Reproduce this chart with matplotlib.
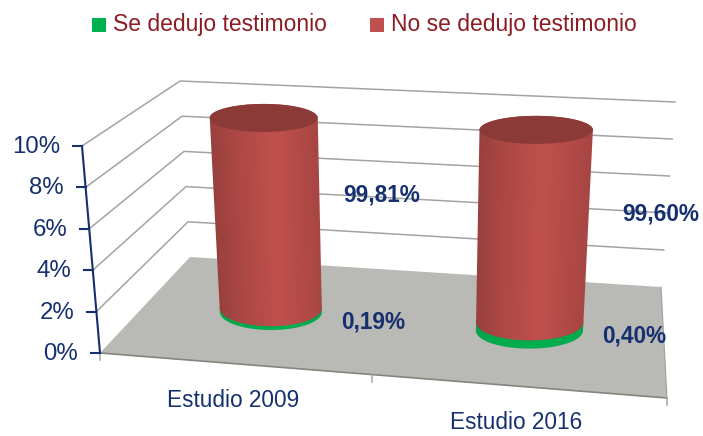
import matplotlib
matplotlib.use('Agg')
import matplotlib.pyplot as plt
import numpy as np
from matplotlib.colors import LinearSegmentedColormap
from matplotlib.patches import Polygon

plt.rcParams['font.family'] = ['Liberation Sans', 'DejaVu Sans']

categories = ['Estudio 2009', 'Estudio 2016']
se_dedujo = [0.19, 0.40]
no_se_dedujo = [99.81, 99.60]
se_labels = ['0,19%', '0,40%']
no_labels = ['99,81%', '99,60%']
ticks = [0, 2, 4, 6, 8, 10]
tick_labels = ['0%', '2%', '4%', '6%', '8%', '10%']
axis_max = 10

NAVY = '#16306f'
DARK_RED = '#8c1c22'
GREEN = '#00b050'
RED = '#c0504d'
GRID = '#a3a3a3'

# box corners in pixels: front left, back left, back right, front right
floor_c = np.array([[100, 353], [190, 257], [661, 287], [667, 398]], float)
top_c = np.array([[82, 146], [180, 81], [675, 102], [681, 173]], float)


def proj(u, v, pct):
    # trilinear position inside the chart box
    t = pct / axis_max
    c = floor_c * (1 - t) + top_c * t
    left = c[0] * (1 - v) + c[1] * v
    right = c[3] * (1 - v) + c[2] * v
    return left * (1 - u) + right * u


def cylinder(ax, u, v, p0, p1, col, bright, z):
    # gradient image clipped to the outline of the cylinder
    b0, b1 = proj(u, v, p0), proj(u, v, p1)
    grow = 1 + 0.1 * (u - 0.24)
    hw0, hw1 = (51 + 3 * p0 / axis_max) * grow, (51 + 3 * p1 / axis_max) * grow
    hh0, hh1 = 18 - 4 * p0 / axis_max, 18 - 4 * p1 / axis_max
    th = np.linspace(np.pi, 0, 80)
    xs = np.r_[b0[0] + hw0 * np.cos(th), b1[0] + hw1 * np.cos(th[::-1])]
    ys = np.r_[b0[1] + hh0 * np.sin(th), b1[1] - hh1 * np.sin(th[::-1])]

    x0, x1, y0, y1 = xs.min() - 1, xs.max() + 1, ys.min() - 1, ys.max() + 1
    gx, gy = np.meshgrid(np.linspace(x0, x1, 200), np.linspace(y0, y1, 200))
    t = np.clip((b0[1] - gy) / max(b0[1] - b1[1], 1), 0, 1)
    cx = b0[0] + (b1[0] - b0[0]) * t
    hw = hw0 + (hw1 - hw0) * t
    f = np.clip((gx - cx + hw) / (2 * hw), 0, 1)
    s = np.clip(1 - abs(f - 0.58) / 0.58, 0, 1) ** 0.8

    cmap = LinearSegmentedColormap.from_list('side', [col, bright])
    im = ax.imshow(s, cmap=cmap, vmin=0, vmax=1, extent=(x0, x1, y1, y0), origin='upper',
                   aspect='auto', zorder=z, interpolation='bilinear')
    im.set_clip_path(Polygon(np.c_[xs, ys], transform=ax.transData))
    return b1, hw1, hh1


fig = plt.figure(figsize=(7.03, 4.36), dpi=100)
ax = fig.add_axes([0, 0, 1, 1])

# walls
for t in ticks[1:]:
    a, b, c = proj(0, 0, t), proj(0, 1, t), proj(1, 1, t)
    ax.plot([a[0], b[0], c[0]], [a[1], b[1], c[1]], color=GRID, lw=1.1, zorder=1)

# floor
ax.fill(floor_c[:, 0], floor_c[:, 1], color='#b9b9b5', lw=0, zorder=2)
ax.plot(floor_c[[0, 3], 0], floor_c[[0, 3], 1], color='#85857f', lw=1.2, zorder=2)
ax.plot(floor_c[[3, 2], 0], floor_c[[3, 2], 1], color='#a0a09c', lw=0.8, zorder=2)
for u in [0, 0.48, 1]:
    p = proj(u, 0, 0)
    ax.plot([p[0], p[0]], [p[1], p[1] + 7], color='#a3a3a3', lw=1.1, zorder=2)

# value axis
a0, a1 = proj(0, 0, 0), proj(0, 0, axis_max)
ax.plot([a0[0], a1[0]], [a0[1], a1[1]], color=NAVY, lw=1.5, zorder=3)
for t, lab in zip(ticks, tick_labels):
    p = proj(0, 0, t)
    ax.plot([p[0] - 9, p[0]], [p[1], p[1]], color=NAVY, lw=1.5, zorder=3)
    ax.text(p[0] - 22, p[1] + 1, lab, color=NAVY, fontsize=17.3, ha='right', va='center', zorder=6)

# cylinders
us = [0.24, 0.74]
v = 0.52
se_off = [(102, 10), (105, 5)]
no_off = [(114, -20), (128, -16)]
for i, cat in enumerate(categories):
    u = us[i]
    cylinder(ax, u, v, 0, se_dedujo[i], '#00a64b', GREEN, 4)
    # the red part runs off the axis, so it stops at the axis maximum
    top = min(se_dedujo[i] + no_se_dedujo[i], axis_max)
    b1, hw, hh = cylinder(ax, u, v, se_dedujo[i], top, '#98403d', RED, 5)
    th = np.linspace(0, 2 * np.pi, 100)
    ax.fill(b1[0] + hw * np.cos(th), b1[1] + hh * np.sin(th), color='#8b3a37', lw=0, zorder=5.5)

    base = proj(u, v, 0)
    mid = (base + proj(u, v, axis_max)) / 2
    ax.text(base[0] + se_off[i][0], base[1] + se_off[i][1], se_labels[i], color=NAVY, fontsize=16.3,
            fontweight='bold', ha='center', va='center', zorder=7)
    ax.text(mid[0] + no_off[i][0], mid[1] + no_off[i][1], no_labels[i], color=NAVY, fontsize=16.3,
            fontweight='bold', ha='center', va='center', zorder=7)
    f = proj(us[i] + 0.01, 0, 0)
    ax.text(f[0] - 9, f[1] + 36, cat, color=NAVY, fontsize=16.3, ha='center', va='center', zorder=6)

# legend
ax.fill([92, 106, 106, 92], [18, 18, 32, 32], color=GREEN, lw=0)
ax.fill([370, 384, 384, 370], [18, 18, 32, 32], color=RED, lw=0)
ax.text(113, 25, 'Se dedujo testimonio', color=DARK_RED, fontsize=16.5, va='center')
ax.text(391, 25, 'No se dedujo testimonio', color=DARK_RED, fontsize=16.5, va='center')

ax.set_xlim(0, 703)
ax.set_ylim(436, 0)
ax.axis('off')

fig.savefig('out.png', dpi=100)
